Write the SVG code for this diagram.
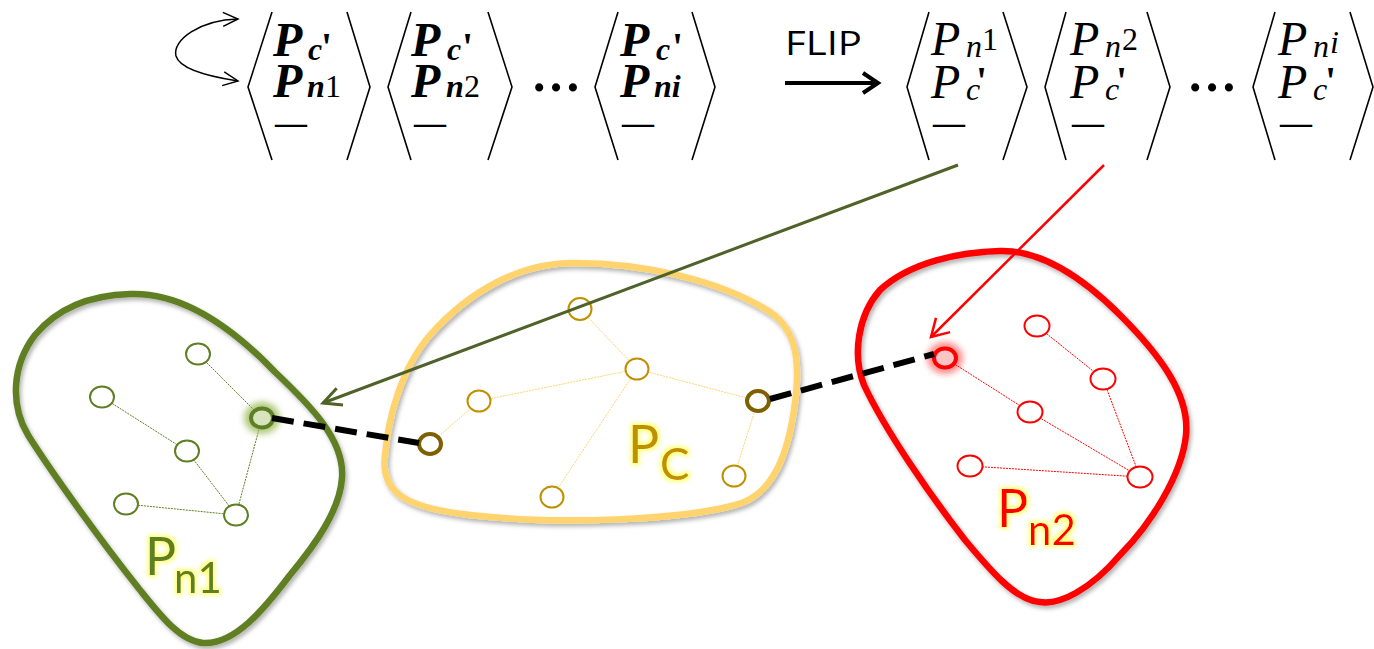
<svg xmlns="http://www.w3.org/2000/svg" width="1374" height="649" viewBox="0 0 1374 649">
<defs>
<style>
.br{fill:none;stroke:#000;stroke-width:1.6}
.m{font-family:'Liberation Serif','Times New Roman',serif;fill:#000}
.mb{font-weight:bold;font-style:italic}
.mi{font-style:italic}
.big{font-size:48px}
.sub{font-size:32px}
.up{font-style:normal;font-weight:normal}
.pr{font-weight:bold;font-style:normal;font-size:40px}
.dsh{font-weight:bold;font-style:normal;font-size:32px}
.dots{font-weight:bold;font-size:50px}
.lbl{font-family:Lato,'Open Sans',sans-serif}
.gn{fill:#fff;stroke:#5F7F24;stroke-width:2}
.cn{fill:#fff;stroke:#BF9000;stroke-width:2}
.cnb{fill:#fff;stroke:#7F6000;stroke-width:4}
.rn{fill:#fff;stroke:#FF0000;stroke-width:2}
.ge{stroke:#5F7F24;stroke-width:1;stroke-dasharray:2 1;fill:none}
.ce{stroke:#FFD46E;stroke-width:1;stroke-dasharray:2 1;fill:none}
.re{stroke:#FF0000;stroke-width:1;stroke-dasharray:2 1;fill:none}
.dash{stroke:#000;stroke-width:6;stroke-dasharray:22 10;fill:none}
.blob{fill:none;stroke-width:6.5}
</style>
<filter id="shadow" x="-10%" y="-10%" width="120%" height="120%">
<feDropShadow dx="2" dy="3" stdDeviation="2" flood-color="#000" flood-opacity="0.3"/>
</filter>
<filter id="yglow" x="-30%" y="-30%" width="160%" height="160%">
<feMorphology in="SourceAlpha" operator="dilate" radius="1.5" result="d"/>
<feGaussianBlur in="d" stdDeviation="2" result="b"/>
<feFlood flood-color="#FFFF66" flood-opacity="0.9"/>
<feComposite in2="b" operator="in" result="g"/>
<feMerge><feMergeNode in="g"/><feMergeNode in="SourceGraphic"/></feMerge>
</filter>
<filter id="blur" x="-50%" y="-50%" width="200%" height="200%">
<feGaussianBlur stdDeviation="3"/>
</filter>
<marker id="ahG" markerUnits="userSpaceOnUse" markerWidth="30" markerHeight="30" viewBox="-25 -15 30 30" refX="0" refY="0" orient="auto" overflow="visible">
<path d="M-18,-9 L0,0 L-18,9" fill="none" stroke="#4F6228" stroke-width="3"/>
</marker>
<marker id="ahR" markerUnits="userSpaceOnUse" markerWidth="30" markerHeight="30" viewBox="-25 -15 30 30" refX="0" refY="0" orient="auto" overflow="visible">
<path d="M-17,-10 L0,0 L-17,10" fill="none" stroke="#FF0000" stroke-width="2.5"/>
</marker>
<marker id="ahK" markerUnits="userSpaceOnUse" markerWidth="30" markerHeight="30" viewBox="-25 -15 30 30" refX="0" refY="0" orient="auto-start-reverse" overflow="visible">
<path d="M-15,-10 L0,0 L-15,10" fill="none" stroke="#000" stroke-width="4"/>
</marker>
<marker id="ahT" markerUnits="userSpaceOnUse" markerWidth="30" markerHeight="30" viewBox="-25 -15 30 30" refX="0" refY="0" orient="auto-start-reverse" overflow="visible">
<path d="M-15,-7 L0,0 L-15,7" fill="none" stroke="#000" stroke-width="1.5"/>
</marker>
</defs>
<rect width="1374" height="649" fill="#fff"/>

<!-- top formula -->
<g id="tuples-before">
<g id="t-l1">
<path class="br" d="M272,12 L248,87 L272,160 M347,12 L370,87 L347,160"/>
<text class="m mb"><tspan class="big" x="273" y="56">P</tspan><tspan class="sub" x="308" y="60">c</tspan><tspan class="pr" x="321" y="60">'</tspan><tspan class="big" x="273" y="97">P</tspan><tspan class="sub" x="307" y="97">n</tspan><tspan class="sub up" x="325" y="97">1</tspan><tspan class="dsh" x="275" y="133">—</tspan></text>
</g>
<g id="t-l2">
<path class="br" d="M411,12 L388,87 L411,160 M488,12 L512,87 L488,160"/>
<text class="m mb"><tspan class="big" x="411" y="56">P</tspan><tspan class="sub" x="447" y="60">c</tspan><tspan class="pr" x="462" y="60">'</tspan><tspan class="big" x="411" y="97">P</tspan><tspan class="sub" x="446" y="97">n</tspan><tspan class="sub up" x="464" y="97">2</tspan><tspan class="dsh" x="414" y="133">—</tspan></text>
</g>
<text class="m dots" x="531" y="91">…</text>
<g id="t-l3">
<path class="br" d="M618,12 L595,87 L618,160 M692,12 L715,87 L692,160"/>
<text class="m mb"><tspan class="big" x="620" y="56">P</tspan><tspan class="sub" x="656" y="60">c</tspan><tspan class="pr" x="672" y="60">'</tspan><tspan class="big" x="620" y="97">P</tspan><tspan class="sub" x="654" y="97">ni</tspan><tspan class="dsh" x="622" y="133">—</tspan></text>
</g>
</g>

<g id="flip">
<text x="785" y="55" font-family="'Open Sans','Liberation Sans',sans-serif" font-size="33" textLength="77" lengthAdjust="spacingAndGlyphs" fill="#000">FLIP</text>
</g>

<g id="tuples-after">
<g id="t-r1">
<path class="br" d="M929,12 L907,87 L929,160 M1003,12 L1027,87 L1003,160"/>
<text class="m mi"><tspan class="big" x="931" y="55">P</tspan><tspan class="sub" x="966" y="57">n</tspan><tspan class="sub up" x="982" y="50">1</tspan><tspan class="big" x="931" y="98">P</tspan><tspan class="sub" x="966" y="100">c</tspan><tspan class="pr" x="976" y="94">'</tspan><tspan class="dsh" x="933" y="133">—</tspan></text>
</g>
<g id="t-r2">
<path class="br" d="M1066,12 L1045,87 L1066,160 M1147,12 L1170,87 L1147,160"/>
<text class="m mi"><tspan class="big" x="1070" y="55">P</tspan><tspan class="sub" x="1105" y="57">n</tspan><tspan class="sub up" x="1122" y="50">2</tspan><tspan class="big" x="1070" y="98">P</tspan><tspan class="sub" x="1105" y="100">c</tspan><tspan class="pr" x="1116" y="94">'</tspan><tspan class="dsh" x="1072" y="133">—</tspan></text>
</g>
<text class="m dots" x="1187" y="91">…</text>
<g id="t-r3">
<path class="br" d="M1275,12 L1253,87 L1275,160 M1350,12 L1373,87 L1350,160"/>
<text class="m mi"><tspan class="big" x="1278" y="55">P</tspan><tspan class="sub" x="1313" y="57">n</tspan><tspan class="sub" x="1330" y="53">i</tspan><tspan class="big" x="1278" y="98">P</tspan><tspan class="sub" x="1313" y="100">c</tspan><tspan class="pr" x="1325" y="94">'</tspan><tspan class="dsh" x="1280" y="133">—</tspan></text>
</g>
</g>

<!-- regions -->
<g id="pn1">
<path class="blob" filter="url(#shadow)" stroke="#5F7F24" d="M130,294 C180,292 230,325 275,372 C310,405 345,440 342,478 C340,510 315,545 290,575 C265,608 235,645 203,643 C180,641 160,615 140,590 C100,540 50,470 28,435 C10,405 12,365 35,335 C60,305 95,295 130,294 Z"/>
<text class="lbl" fill="#5F7F24" filter="url(#yglow)"><tspan x="145" y="575" font-size="52">P</tspan><tspan x="174" y="593" font-size="42">n1</tspan></text>
</g>
<g id="pc">
<path class="blob" filter="url(#shadow)" stroke="#FFD46E" d="M570,263 C640,262 720,280 770,312 C800,332 800,370 794,410 C788,450 775,495 735,505 C680,520 560,525 470,515 C410,508 380,495 385,455 C388,420 400,370 430,335 C470,290 520,264 570,263 Z"/>
<text class="lbl" fill="#BF9000" filter="url(#yglow)"><tspan x="628" y="463" font-size="52">P</tspan><tspan x="660" y="480" font-size="44">C</tspan></text>
</g>
<g id="pn2">
<path class="blob" filter="url(#shadow)" stroke="#FF0000" d="M1000,251 C1040,250 1080,275 1120,315 C1160,355 1190,395 1186,435 C1182,475 1150,525 1120,555 C1090,590 1060,605 1040,602 C1015,600 990,570 965,540 C930,495 885,430 864,385 C852,355 858,315 880,290 C910,262 960,252 1000,251 Z"/>
<text class="lbl" fill="#FF0000" filter="url(#yglow)"><tspan x="997" y="527" font-size="52">P</tspan><tspan x="1028" y="545" font-size="42">n2</tspan></text>
</g>

<!-- intra-region edges -->
<g id="edges">
<path class="ge" d="M198,354 L262,418 M102,397 L187,451 L236,515 M262,418 L236,515 M126,504 L236,515"/>
<path class="ce" d="M580,309 L637,369 M637,369 L479,401 L430,444 M637,369 L758,401 L734,476 M637,369 L552,497"/>
<path class="re" d="M945,358 L1030,412 L1140,477 M1037,326 L1103,379 L1140,477 M970,466 L1140,477"/>
</g>

<!-- nodes -->
<g id="pn1-nodes">
<g id="n1a"><ellipse class="gn" cx="198" cy="354" rx="12" ry="10.5"/></g>
<g id="n1b"><ellipse class="gn" cx="102" cy="397" rx="12" ry="10.5"/></g>
<g id="n1c"><ellipse fill="#9BBB59" opacity="0.8" filter="url(#blur)" cx="262" cy="418" rx="18" ry="16"/><ellipse fill="#D7E4BD" stroke="#5F7F24" stroke-width="4" cx="262" cy="418" rx="11" ry="9.5"/></g>
<g id="n1d"><ellipse class="gn" cx="187" cy="451" rx="12" ry="10.5"/></g>
<g id="n1e"><ellipse class="gn" cx="126" cy="504" rx="12" ry="10.5"/></g>
<g id="n1f"><ellipse class="gn" cx="236" cy="515" rx="12" ry="10.5"/></g>
</g>
<g id="pc-nodes">
<g id="nca"><ellipse class="cn" cx="580" cy="309" rx="11.5" ry="11"/></g>
<g id="ncb"><ellipse class="cn" cx="637" cy="369" rx="11.5" ry="10.5"/></g>
<g id="ncc"><ellipse class="cn" cx="479" cy="401" rx="11.5" ry="10.5"/></g>
<g id="ncd"><ellipse class="cnb" cx="430" cy="444" rx="11" ry="10"/></g>
<g id="nce"><ellipse class="cnb" cx="758" cy="401" rx="11" ry="10"/></g>
<g id="ncf"><ellipse class="cn" cx="552" cy="497" rx="11.5" ry="10.5"/></g>
<g id="ncg"><ellipse class="cn" cx="734" cy="476" rx="11.5" ry="10.5"/></g>
</g>
<g id="pn2-nodes">
<g id="n2a"><ellipse fill="#FF0000" opacity="0.45" filter="url(#blur)" cx="945" cy="358" rx="18" ry="16"/><ellipse fill="#F8C4C4" stroke="#FF0000" stroke-width="4" cx="945" cy="358" rx="11" ry="9.5"/></g>
<g id="n2b"><ellipse class="rn" cx="1037" cy="326" rx="12.5" ry="10.5"/></g>
<g id="n2c"><ellipse class="rn" cx="1103" cy="379" rx="12.5" ry="10.5"/></g>
<g id="n2d"><ellipse class="rn" cx="1030" cy="412" rx="12.5" ry="10.5"/></g>
<g id="n2e"><ellipse class="rn" cx="970" cy="466" rx="12.5" ry="10.5"/></g>
<g id="n2f"><ellipse class="rn" cx="1140" cy="477" rx="12.5" ry="10.5"/></g>
</g>

<!-- connectors -->
<g id="connectors">
<path d="M238,19 C200,20 172,40 176,56 C180,70 212,77 238,81" fill="none" stroke="#000" stroke-width="1.5" marker-start="url(#ahT)" marker-end="url(#ahT)"/>
<path d="M785,83 L878,83" fill="none" stroke="#000" stroke-width="4" marker-end="url(#ahK)"/>
<path class="dash" d="M272,418 L419,443"/>
<path class="dash" d="M770,399 L934,354"/>
<path d="M958,165 L323,403" fill="none" stroke="#4F6228" stroke-width="3" marker-end="url(#ahG)"/>
<path d="M1104,165 L931,337" fill="none" stroke="#FF0000" stroke-width="2.5" marker-end="url(#ahR)"/>
</g>
</svg>
